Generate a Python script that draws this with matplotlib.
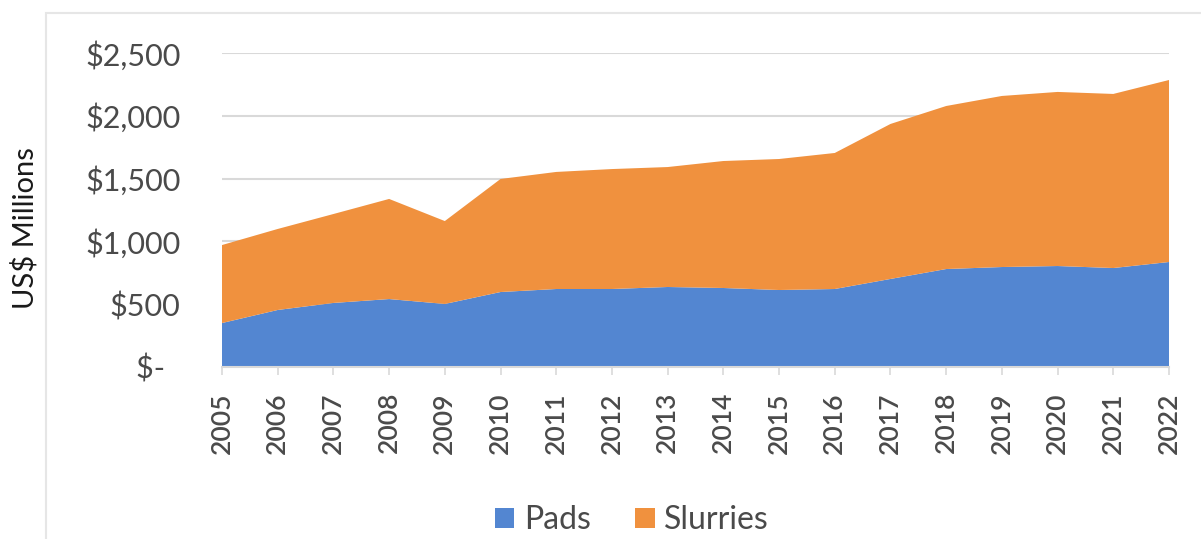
import matplotlib.pyplot as plt
from matplotlib.ticker import FuncFormatter
from matplotlib.patches import Rectangle

plt.rcParams['font.family'] = ['Lato', 'DejaVu Sans']

years = [2005, 2006, 2007, 2008, 2009, 2010, 2011, 2012, 2013,
         2014, 2015, 2016, 2017, 2018, 2019, 2020, 2021, 2022]
pads = [350, 454, 510, 541, 502, 597, 621, 621, 637,
        629, 613, 621, 701, 780, 796, 804, 788, 836]
totals = [971, 1099, 1218, 1338, 1162, 1497, 1553, 1576, 1592,
          1640, 1656, 1704, 1935, 2078, 2158, 2190, 2174, 2285]
slurries = [t - p for t, p in zip(totals, pads)]

blue = '#5386d1'
orange = '#f0913e'
label_col = '#4a4a4a'

fig = plt.figure(figsize=(12.01, 5.39), dpi=100)
ax = fig.add_axes([222 / 1201, 1 - 367 / 539, (1169 - 222) / 1201, (367 - 53) / 539])

# faint chart-area frame
fig.patches.append(Rectangle((46 / 1201, -0.1), 1.2, 1 - 13 / 539 + 0.1,
                             transform=fig.transFigure, fill=False,
                             edgecolor='#e6e6e6', linewidth=1.5, zorder=0))

ax.stackplot(years, pads, slurries, colors=[blue, orange],
             labels=['Pads', 'Slurries'], zorder=2)

ax.set_xlim(years[0], years[-1])
ax.set_ylim(0, 2500)
ax.set_yticks(range(0, 2501, 500))
ax.yaxis.set_major_formatter(FuncFormatter(
    lambda v, p: '$-  ' if v == 0 else '${:,.0f}'.format(v)))
ax.grid(axis='y', color='#d9d9d9', linewidth=1.5, zorder=0)
ax.set_axisbelow(True)

ax.set_xticks(years)
ax.set_xticklabels([str(y) for y in years], rotation=90)

for s in ['top', 'right', 'left']:
    ax.spines[s].set_visible(False)
ax.spines['bottom'].set_color('#d9d9d9')
ax.spines['bottom'].set_linewidth(1.5)

ax.tick_params(axis='y', length=0, labelsize=22, labelcolor=label_col, pad=30)
ax.tick_params(axis='x', length=6, color='#d9d9d9', width=1.2,
               labelsize=19, labelcolor=label_col, pad=12)
for t in ax.get_xticklabels():
    t.set_fontweight('semibold')

fig.text(25 / 1201, 1 - 228 / 539, 'US$ Millions', rotation=90,
         ha='center', va='center', fontsize=21, color='#1a1a1a')

fig.legend(loc='center', bbox_to_anchor=(632 / 1201, 1 - 520 / 539), ncol=2,
           frameon=False, fontsize=23, handlelength=0.6, handleheight=0.6,
           handletextpad=0.3, columnspacing=1.4, labelcolor=label_col)

fig.savefig('out.png', dpi=100)
